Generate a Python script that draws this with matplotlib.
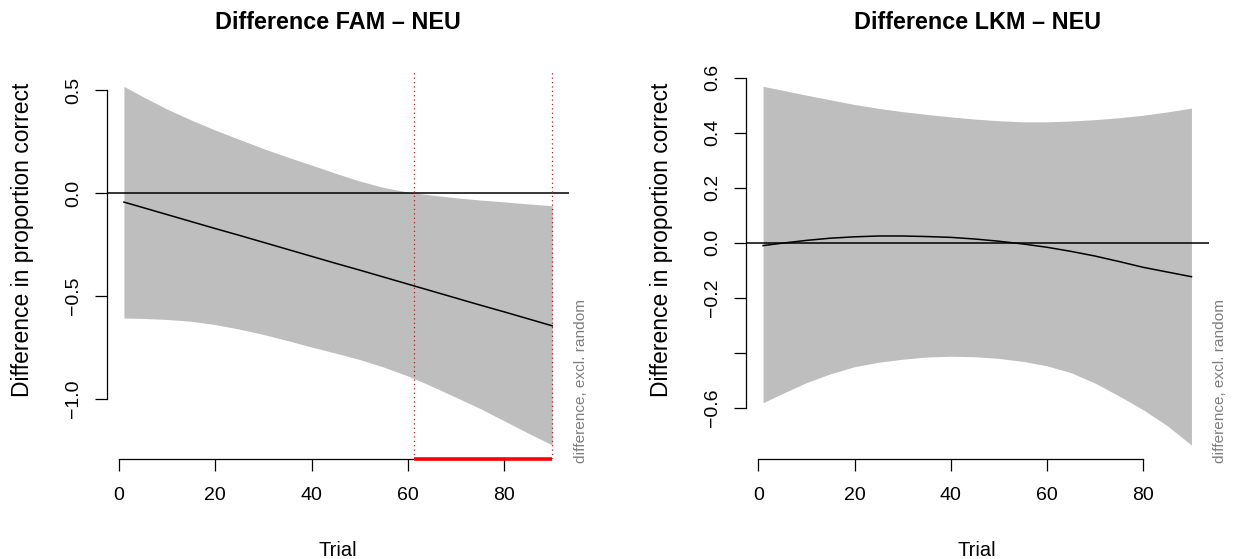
import matplotlib
matplotlib.use("Agg")
import matplotlib.pyplot as plt

plt.rcParams['font.family'] = ['Liberation Sans', 'DejaVu Sans']

# ---------------- data ----------------
trial = [1, 5, 10, 15, 20, 25, 30, 35, 40, 45, 50, 55, 60, 65, 70, 75, 80, 85, 90]

fam_mean = [-0.044, -0.071, -0.105, -0.139, -0.173, -0.206, -0.240, -0.274, -0.308, -0.342,
            -0.375, -0.409, -0.443, -0.477, -0.511, -0.545, -0.578, -0.612, -0.646]
fam_upper = [0.519, 0.468, 0.408, 0.355, 0.306, 0.261, 0.216, 0.175, 0.136, 0.096,
             0.058, 0.027, 0.005, -0.010, -0.023, -0.034, -0.043, -0.053, -0.062]
fam_lower = [-0.608, -0.610, -0.615, -0.624, -0.640, -0.662, -0.688, -0.718, -0.749, -0.779,
             -0.810, -0.847, -0.890, -0.940, -0.994, -1.048, -1.108, -1.168, -1.226]

lkm_mean = [-0.010, -0.001, 0.009, 0.017, 0.022, 0.025, 0.025, 0.023, 0.020, 0.014,
            0.006, -0.004, -0.016, -0.031, -0.048, -0.068, -0.089, -0.106, -0.123]
lkm_upper = [0.569, 0.555, 0.537, 0.520, 0.503, 0.489, 0.477, 0.467, 0.458, 0.450,
             0.444, 0.440, 0.440, 0.443, 0.448, 0.455, 0.464, 0.476, 0.490]
lkm_lower = [-0.581, -0.548, -0.508, -0.476, -0.450, -0.434, -0.423, -0.415, -0.412, -0.414,
             -0.420, -0.431, -0.447, -0.472, -0.510, -0.557, -0.607, -0.665, -0.735]

fam_sig = [61.2, 90]          # significant-difference window (FAM - NEU)
xticks = [0, 20, 40, 60, 80]
fam_yticks = [-1.0, -0.5, 0.0, 0.5]
fam_yticklabels = ['\u22121.0', '\u22120.5', '0.0', '0.5']
lkm_yticks = [-0.6, -0.4, -0.2, 0.0, 0.2, 0.4, 0.6]
lkm_yticklabels = ['\u22120.6', '', '\u22120.2', '0.0', '0.2', '0.4', '0.6']

titles = ['Difference FAM \u2013 NEU', 'Difference LKM \u2013 NEU']
ylab = 'Difference in proportion correct'
xlab = 'Trial'
note = 'difference, excl. random'

# ---------------- figure ----------------
W, H = 1233, 559
fig = plt.figure(figsize=(W / 100, H / 100), dpi=100)

ax_w = 0.3752
ax_b = 1 - 459.4 / H
ax_h = (459.4 - 72.0) / H
lefts = [0.0866, 0.6050]

TICK_FS = 14.0
GRAY = '#BEBEBE'


def rlim(lo, hi):
    pad = 0.04 * (hi - lo)
    return lo - pad, hi + pad


panels = [
    (fam_mean, fam_upper, fam_lower, fam_yticks, fam_yticklabels, fam_sig),
    (lkm_mean, lkm_upper, lkm_lower, lkm_yticks, lkm_yticklabels, None),
]

for i, (mean, up, lo, yt, ytl, sig) in enumerate(panels):
    ax = fig.add_axes([lefts[i], ax_b, ax_w, ax_h])
    ax.fill_between(trial, lo, up, color=GRAY, linewidth=0, zorder=1)
    ax.axhline(0, color='black', lw=1.1, zorder=2)
    ax.plot(trial, mean, color='black', lw=1.1, zorder=3)

    ax.set_xlim(*rlim(min(trial), max(trial)))
    ylo, yhi = rlim(min(lo), max(up))
    ax.set_ylim(ylo, yhi)

    if sig is not None:
        for xv in sig:
            ax.axvline(xv, color='red', lw=0.9, linestyle=(0, (1, 2.5)), zorder=4)
        ax.plot(sig, [ylo, ylo], color='red', lw=2.6, solid_capstyle='butt',
                clip_on=False, zorder=6)

    for s in ['top', 'right']:
        ax.spines[s].set_visible(False)
    ax.spines['left'].set_bounds(yt[0], yt[-1])
    ax.spines['bottom'].set_bounds(xticks[0], xticks[-1])
    for s in ['left', 'bottom']:
        ax.spines[s].set_linewidth(0.9)
        ax.spines[s].set_zorder(5)

    ax.set_xticks(xticks)
    ax.set_xticklabels([str(v) for v in xticks])
    ax.set_yticks(yt)
    ax.set_yticklabels(ytl, rotation=90, va='center')
    ax.tick_params(direction='out', length=8.5, width=0.9,
                   labelsize=TICK_FS, colors='black')
    ax.tick_params(axis='y', pad=9.4)
    ax.tick_params(axis='x', pad=11.5)
    ax.patch.set_visible(False)

    # texts positioned like the R device output
    x0 = lefts[i] * W
    xc = (lefts[i] + ax_w / 2)
    fig.text(xc, 1 - 29 / H, titles[i], ha='center', va='baseline',
             fontsize=16.8, fontweight='bold')
    fig.text(xc, 1 - 556 / H, xlab, ha='center', va='baseline', fontsize=14.5)
    fig.text((x0 - 72.7) / W, 1 - 240 / H, ylab, rotation=90, ha='right',
             va='center', fontsize=16.5)
    fig.text((x0 + 474.5) / W, 1 - 463 / H, note, rotation=90, ha='center',
             va='bottom', fontsize=11.1, color='#7F7F7F')

fig.savefig('out.png', dpi=100)
